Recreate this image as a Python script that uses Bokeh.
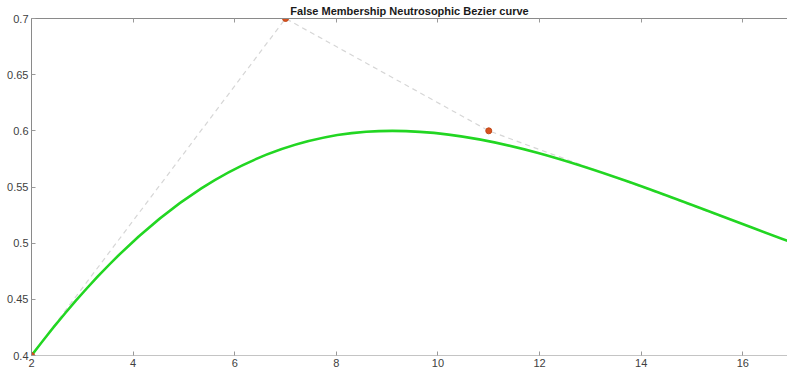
from bokeh.plotting import figure
from bokeh.models import LinearAxis, FixedTicker, Range1d
from bokeh.embed import file_html
from bokeh.resources import INLINE

# control points of the cubic Bezier curve
ctrl_x = [2, 7, 11, 17]
ctrl_y = [0.4, 0.7, 0.6, 0.5]

x_ticks = [2, 4, 6, 8, 10, 12, 14, 16]
y_ticks = [0.4, 0.45, 0.5, 0.55, 0.6, 0.65, 0.7]
y_tick_labels = ["0.4", "0.45", "0.5", "0.55", "0.6", "0.65", "0.7"]
title_text = "False Membership Neutrosophic Bezier curve"

FONT = "Liberation Sans"

p = figure(width=787, height=377, output_backend="svg", toolbar_location=None,
           x_range=Range1d(2, 16.88), y_range=Range1d(0.4, 0.7),
           x_axis_location=None, y_axis_location=None,
           min_border_left=31, min_border_right=0, min_border_top=18,
           min_border_bottom=22, title=title_text)
p.outline_line_color = None
p.xgrid.visible = False
p.ygrid.visible = False
p.background_fill_color = "white"

p.title.text_font = FONT
p.title.text_font_style = "bold"
p.title.text_font_size = "11px"
p.title.text_color = "#1a1a1a"
p.title.align = "center"
p.title.offset = 3
p.title.standoff = 3

def style(ax, color):
    ax.axis_line_color = color
    ax.major_tick_line_color = "#999999"
    ax.major_tick_in = 4
    ax.major_tick_out = 0
    ax.minor_tick_line_color = None
    ax.major_label_text_font = FONT
    ax.major_label_text_font_size = "11px"
    ax.major_label_text_color = "#404040"
    ax.major_label_standoff = 3

bottom = LinearAxis(ticker=FixedTicker(ticks=x_ticks))
style(bottom, "#c4c4c4")
p.add_layout(bottom, "below")

left = LinearAxis(ticker=FixedTicker(ticks=y_ticks))
left.major_label_overrides = {t: s for t, s in zip(y_ticks, y_tick_labels)}
style(left, "#8a8a8a")
p.add_layout(left, "left")

# top box line with inward ticks and no labels
top = LinearAxis(ticker=FixedTicker(ticks=[], minor_ticks=x_ticks))
top.axis_line_color = "#8a8a8a"
top.major_tick_line_color = None
top.minor_tick_line_color = "#999999"
top.minor_tick_in = 4
top.minor_tick_out = 0
top.major_label_standoff = 0
p.add_layout(top, "above")

# control polygon
p.line(ctrl_x, ctrl_y, line_color="#d6d6d6", line_width=1.2, line_dash="5 4")

# Bezier curve
p.bezier(x0=[ctrl_x[0]], y0=[ctrl_y[0]], x1=[ctrl_x[3]], y1=[ctrl_y[3]],
         cx0=[ctrl_x[1]], cy0=[ctrl_y[1]], cx1=[ctrl_x[2]], cy1=[ctrl_y[2]],
         line_color="#22d622", line_width=2.6)

# control points
p.scatter(ctrl_x, ctrl_y, size=6, fill_color="#d9531e", line_color="#c0481a")

open("out.html", "w").write(file_html(p, INLINE))
